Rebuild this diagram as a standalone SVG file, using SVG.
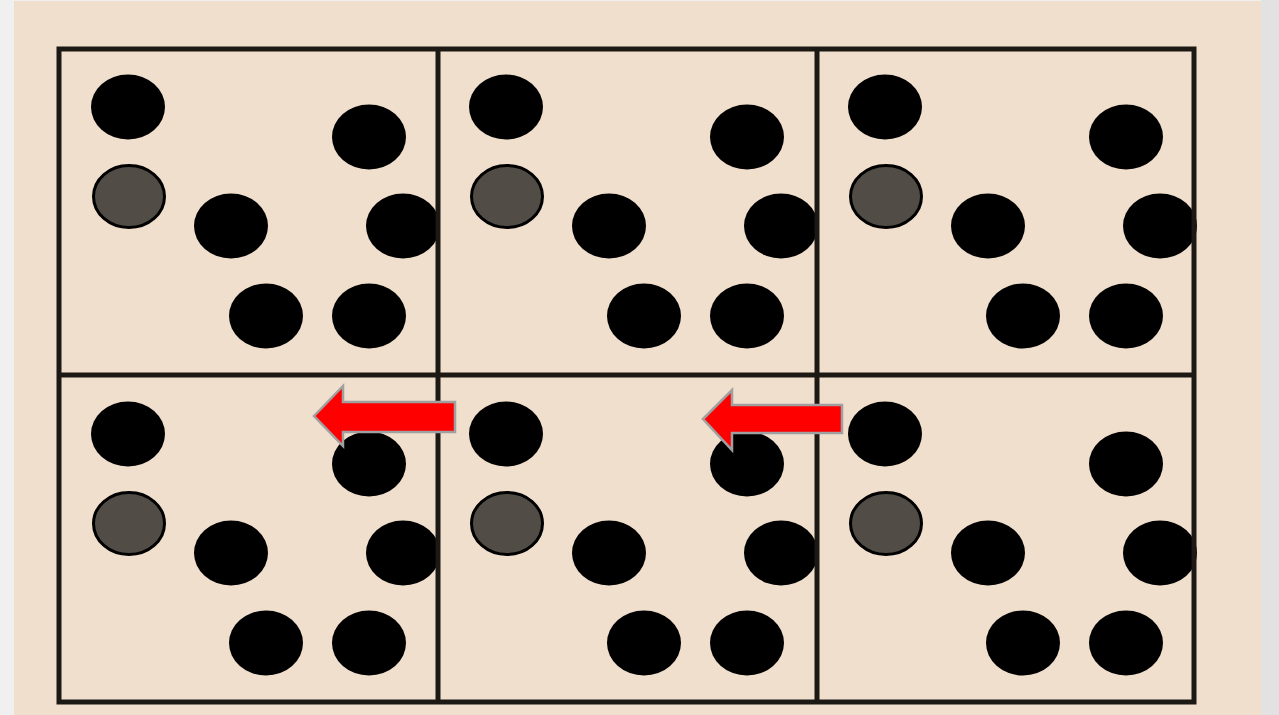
<svg xmlns="http://www.w3.org/2000/svg" width="1279" height="715" viewBox="0 0 1279 715">
<defs>
<style>
.bg{fill:#f0f0f0}
.panel{fill:#f1dfcd}
.grid{fill:none;stroke:#1c1915;stroke-width:5}
.dot{fill:#000}
.gdot{fill:#514c45;stroke:#000;stroke-width:3}
.arrow{fill:#ff0000;stroke:#a0a0a0;stroke-width:2.5;stroke-linejoin:miter}
</style>
<g id="cellDots">
<ellipse class="dot" cx="128" cy="107" rx="37" ry="32.5"/>
<ellipse class="dot" cx="369" cy="137" rx="37" ry="32.5"/>
<ellipse class="gdot" cx="129" cy="196.5" rx="35.5" ry="31"/>
<ellipse class="dot" cx="231" cy="226" rx="37" ry="32.5"/>
<ellipse class="dot" cx="403" cy="226" rx="37" ry="32.5"/>
<ellipse class="dot" cx="266" cy="316" rx="37" ry="32.5"/>
<ellipse class="dot" cx="369" cy="316" rx="37" ry="32.5"/>
</g>
</defs>
<rect class="bg" x="0" y="0" width="1279" height="715"/>
<rect x="1261" y="0" width="18" height="715" fill="#e2e2e2"/>
<rect class="panel" x="14" y="1" width="1247" height="714"/>
<g id="cell-1-1"><use href="#cellDots"/></g>
<g id="cell-1-2"><use href="#cellDots" transform="translate(378,0)"/></g>
<g id="cell-1-3"><use href="#cellDots" transform="translate(757,0)"/></g>
<g id="cell-2-1"><use href="#cellDots" transform="translate(0,327)"/></g>
<g id="cell-2-2"><use href="#cellDots" transform="translate(378,327)"/></g>
<g id="cell-2-3"><use href="#cellDots" transform="translate(757,327)"/></g>
<g id="grid">
<rect class="grid" x="59" y="49" width="1135" height="653"/>
<line class="grid" x1="438" y1="49" x2="438" y2="702"/>
<line class="grid" x1="817" y1="49" x2="817" y2="702"/>
<line class="grid" x1="59" y1="375" x2="1194" y2="375"/>
</g>
<g id="connectors">
<polygon class="arrow" points="314,416 343,386 343,402 455,402 455,432 343,432 343,446"/>
<polygon class="arrow" points="703,419 732,390 732,405 842,405 842,433 732,433 732,450"/>
</g>
</svg>
